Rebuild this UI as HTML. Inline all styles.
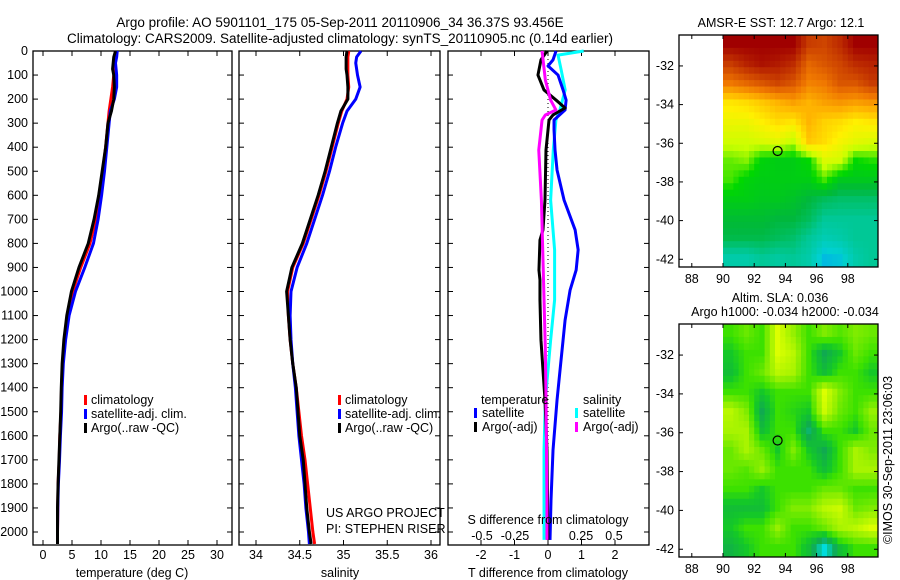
<!DOCTYPE html>
<html><head><meta charset="utf-8"><style>
body{margin:0;background:#fff;}
svg{display:block;font-family:"Liberation Sans",sans-serif;}
text{fill:#000;}
</style></head><body>
<svg id="chart" width="900" height="580" viewBox="0 0 900 580">
<text x="340" y="27" font-size="13.5" text-anchor="middle">Argo profile: AO 5901101_175 05-Sep-2011 20110906_34 36.37S 93.456E</text>
<text x="340" y="43" font-size="13.5" text-anchor="middle">Climatology: CARS2009. Satellite-adjusted climatology: synTS_20110905.nc (0.14d earlier)</text>
<g id="g"></g>
</svg>
<script>
// ---- data ----
const depthTicks=[0,100,200,300,400,500,600,700,800,900,1000,1100,1200,1300,1400,1500,1600,1700,1800,1900,2000];
const tempTicks=[0,5,10,15,20,25,30];
const salTicks=[34,34.5,35,35.5,36];
const salTickLabels=["34","34.5","35","35.5","36"];
const tdiffTicks=[-2,-1,0,1,2];
const sdiffTicks=[-0.5,-0.25,0,0.25,0.5];
const sdiffTickLabels=["-0.5","-0.25","0","0.25","0.5"];
const profDepth=[0,25,50,75,100,150,200,250,300,400,500,600,700,800,900,1000,1100,1200,1300,1400,1500,1600,1700,1800,1900,2000,2050];
const tempClim=[12.5,12.4,12.4,12.3,12.2,12.0,11.7,11.4,11.2,10.8,10.3,9.8,9.1,8.1,6.5,5.1,4.2,3.7,3.4,3.2,3.1,2.9,2.8,2.6,2.55,2.5,2.5];
const tempSat=[12.8,12.7,12.5,12.6,12.7,12.7,12.3,11.6,11.4,11.0,10.6,10.1,9.5,8.7,7.2,5.6,4.5,3.9,3.5,3.3,3.2,3.0,2.85,2.65,2.55,2.5,2.5];
const tempArgo=[12.5,12.2,12.1,12.0,12.2,12.3,12.2,11.8,11.2,10.8,10.2,9.6,8.8,7.8,6.2,4.9,4.1,3.6,3.3,3.15,3.05,2.9,2.75,2.6,2.5,2.5,2.5];
const salClim=[35.06,35.05,35.05,35.05,35.05,35.06,35.04,34.98,34.94,34.87,34.8,34.72,34.63,34.54,34.42,34.36,34.37,34.39,34.42,34.46,34.49,34.52,34.56,34.59,34.62,34.65,34.67];
const salSat=[35.2,35.15,35.14,35.15,35.16,35.19,35.14,35.04,34.99,34.91,34.84,34.76,34.67,34.58,34.47,34.4,34.39,34.4,34.42,34.45,34.47,34.49,34.52,34.55,34.57,34.6,34.61];
const salArgo=[35.04,35.03,35.03,35.03,35.04,35.05,35.05,34.97,34.93,34.86,34.79,34.71,34.62,34.53,34.41,34.35,34.37,34.39,34.42,34.46,34.48,34.5,34.54,34.56,34.58,34.61,34.63];
const tSatDepth=[0,37,62,100,162,204,245,287,328,412,495,620,744,827,911,994,1119,1202,1326,1451,1659,1867,2033];
const tSatDiff=[0.24,0.15,0,0.30,0.45,0.54,0.51,0.18,0.18,0.21,0.27,0.48,0.81,0.9,0.84,0.66,0.51,0.45,0.36,0.27,0.15,0.09,0.06];
const tArgoDepth=[0,37,100,162,204,237,266,287,412,620,744,786,911,952,1035,1202,1451,1659,2033];
const tArgoDiff=[-0.03,-0.21,-0.3,-0.12,0.24,0.51,0.15,0.03,-0.06,-0.09,-0.15,-0.24,-0.27,-0.24,-0.24,-0.21,-0.09,-0.03,0];
const sSatDepth=[0,17,79,162,204,245,287,412,620,827,1035,1202,1451,1659,2033];
const sSatDiff=[0.27,0.076,0.1,0.13,0.11,0.09,0.06,0.04,0.02,0.05,0.05,0.02,-0.02,-0.03,-0.03];
const sArgoDepth=[0,121,204,245,266,287,412,620,827,1035,1244,1451,1867,2033];
const sArgoDiff=[-0.045,-0.02,0.02,0.06,-0.02,-0.045,-0.07,-0.05,-0.04,-0.03,-0.02,-0.015,-0.008,-0.008];
const mapLonTicks=[88,90,92,94,96,98];
const mapLatTicks=[-32,-34,-36,-38,-40,-42];
const gridLon=[90,91,92,93,94,95,96,97,98,99];
const gridLat=[-30.4,-31.4,-32.4,-33.4,-34.4,-35.4,-36.4,-37.4,-38.4,-39.4,-40.4,-41.4];
const sst=[
[16,16,16,16,16,15.3,15.2,15.5,16,16],
[15.3,15.6,15.8,15.7,15.5,14.8,15,15.2,15.5,15.6],
[14.6,14.8,15,15.2,15,14.5,14.6,15,15,15.3],
[13.5,13.6,13.8,14,14.2,14,14.2,14.3,14.2,14.3],
[13.2,13.2,13.4,13.6,13.5,14,13.7,13.6,13.4,13.5],
[12.9,12.9,13,13.1,12.8,13.8,13.6,13.3,13.1,13.0],
[12.5,12.6,12.1,12.0,12.0,12.2,13.0,12.9,12.2,12.3],
[12.4,12.1,12.0,12.0,12.0,12.0,12.4,11.9,11.9,11.9],
[12.0,12.0,11.9,11.9,11.8,11.6,11.4,11.3,11.3,11.3],
[11.7,11.7,11.7,11.6,11.6,11.4,11.0,11.0,11.0,11.0],
[11.5,11.5,11.5,11.4,11.3,11.0,10.7,10.8,11.0,11.0],
[10.8,10.8,11.0,10.9,11.0,10.8,10.2,10.3,10.8,11.0]];
const sla=[
[0,0.2,0,0.8,0.4,0,0.3,0.1,0.3,0.2],
[-0.2,0,0,0.8,0.6,0,-0.5,-0.2,0.2,0],
[-0.3,0,0.2,0.6,0.5,0,-0.3,0,0,-0.2],
[0,0,-0.2,0,0,0,0.8,0.3,0,0],
[0.6,0.3,-0.5,0,-0.1,-0.2,0.7,0.2,0,0.4],
[0.5,0.5,-0.3,0,0,-0.6,0,0,-0.2,0.2],
[0.2,0.5,0.2,-0.2,0.3,-0.2,-0.5,0,0.5,0.3],
[0.2,0.1,0.4,0,0,0,-0.3,0,0.5,0.5],
[0,0,-0.2,0,0,0,0.2,0.2,0,0],
[-0.3,-0.3,-0.3,0,0.3,0.3,0.6,0.7,0.2,0.3],
[-0.2,0,0,0.4,0,0,0.2,0.5,0.6,0.8],
[-0.4,-0.2,0,0,0,-0.3,-1,-0.3,0,0]];
const argoPos=[93.5,-36.4];

// ---- helpers ----
const NS="http://www.w3.org/2000/svg";
const G=document.getElementById('g');
function mk(tag,at,txt){const e=document.createElementNS(NS,tag);for(const k in at)e.setAttribute(k,at[k]);if(txt!==undefined)e.textContent=txt;G.appendChild(e);return e;}
const Y0=51,Y1=545;
const yD=d=>Y0+d*0.2405;
const xT=t=>43+5.8*t;
const xS=s=>256+87.5*(s-34);
const xTd=t=>548+33.5*t;
const xSd=s=>548+132*s;

function frame(x0,x1,name){
  const r=mk('rect',{x:x0,y:Y0,width:x1-x0,height:Y1-Y0,fill:'none',stroke:'#000','stroke-width':1.3});
  
  
  depthTicks.forEach(d=>{const y=yD(d);
    mk('line',{x1:x0,x2:x0+5,y1:y,y2:y,stroke:'#000'});
    mk('line',{x1:x1-5,x2:x1,y1:y,y2:y,stroke:'#000'});});
}
function xticks(vals,labels,fx,x0,x1,ly,name){
  vals.forEach((v,i)=>{const x=fx(v);
    mk('line',{x1:x,x2:x,y1:Y0,y2:Y0+5,stroke:'#000'});
    mk('line',{x1:x,x2:x,y1:Y1-5,y2:Y1,stroke:'#000'});
    const t=mk('text',{x:x,y:ly,'font-size':12.5,'text-anchor':'middle'},labels[i]);
    
    });
}
function line(fx,xs,ds,color,name,w){
  const p=mk('polyline',{points:xs.map((v,i)=>fx(v)+','+yD(ds[i])).join(' '),fill:'none',stroke:color,'stroke-width':w||3,'stroke-linejoin':'round'});
  
  
}
function txt(x,y,s,name,extra){const t=mk('text',Object.assign({x:x,y:y,'font-size':12.5},extra||{}),s);
  
  return t;}
function marker(x,y,color,name){const r=mk('rect',{x:x,y:y-9,width:3,height:10,fill:color});
  
  }

// ---- panel 1: temperature ----
frame(33,232,'temperature-axes');
depthTicks.forEach(d=>txt(28,yD(d)+4,String(d),'depth-tick-label',{'text-anchor':'end'}));
xticks(tempTicks,tempTicks.map(String),xT,33,232,559,'temp-tick-label');
line(xT,tempClim,profDepth,'#ff0000','temp-climatology-line');
line(xT,tempSat,profDepth,'#0000ff','temp-satellite-line');
line(xT,tempArgo,profDepth,'#000000','temp-argo-line');
txt(132,577,'temperature (deg C)','temp-x-axis-title',{'text-anchor':'middle'});
marker(84,404,'#ff0000','legend-marker-climatology');txt(91,404,'climatology','legend-climatology');
marker(84,418,'#0000ff','legend-marker-satellite');txt(91,418,'satellite-adj. clim.','legend-satellite');
marker(84,432,'#000','legend-marker-argo');txt(91,432,'Argo(..raw -QC)','legend-argo');

// ---- panel 2: salinity ----
frame(239,440,'salinity-axes');
xticks(salTicks,salTickLabels,xS,239,440,559,'sal-tick-label');
line(xS,salClim,profDepth,'#ff0000','sal-climatology-line');
line(xS,salSat,profDepth,'#0000ff','sal-satellite-line');
line(xS,salArgo,profDepth,'#000000','sal-argo-line');
txt(340,577,'salinity','sal-x-axis-title',{'text-anchor':'middle'});
marker(338,404,'#ff0000','legend-marker-climatology-2');txt(345,404,'climatology','legend-climatology-2');
marker(338,418,'#0000ff','legend-marker-satellite-2');txt(345,418,'satellite-adj. clim.','legend-satellite-2');
marker(338,432,'#000','legend-marker-argo-2');txt(345,432,'Argo(..raw -QC)','legend-argo-2');
txt(326,517,'US ARGO PROJECT','project-label');
txt(326,533,'PI: STEPHEN RISER','pi-label');

// ---- panel 3: differences ----
frame(448,649,'difference-axes');
tdiffTicks.forEach(v=>{const x=xTd(v);mk('line',{x1:x,x2:x,y1:Y0,y2:Y0+5,stroke:'#000'});mk('line',{x1:x,x2:x,y1:Y1-5,y2:Y1,stroke:'#000'});
  txt(x,559,String(v),'tdiff-tick-label',{'text-anchor':'middle'});});
sdiffTicks.forEach((v,i)=>txt(xSd(v),540,sdiffTickLabels[i],'sdiff-tick-label',{'text-anchor':'middle'}));
const z=mk('line',{x1:xTd(0),x2:xTd(0),y1:Y0,y2:Y1,stroke:'#000','stroke-dasharray':'1,3'});


line(xSd,sSatDiff,sSatDepth,'#00ffff','sdiff-satellite-line');
line(xTd,tSatDiff,tSatDepth,'#0000ff','tdiff-satellite-line');
line(xTd,tArgoDiff,tArgoDepth,'#000000','tdiff-argo-line');
line(xSd,sArgoDiff,sArgoDepth,'#ff00ff','sdiff-argo-line');
txt(548,577,'T difference from climatology','tdiff-axis-title',{'text-anchor':'middle'});
txt(548,524,'S difference from climatology','sdiff-axis-title',{'text-anchor':'middle'});
txt(481,404,'temperature','legend-temperature-header');
marker(474,417,'#0000ff','legend-marker-tsat');txt(482,417,'satellite','legend-tsat');
marker(474,431,'#000','legend-marker-targo');txt(482,431,'Argo(-adj)','legend-targo');
txt(583,404,'salinity','legend-salinity-header');
marker(575,417,'#00ffff','legend-marker-ssat');txt(583,417,'satellite','legend-ssat');
marker(575,431,'#ff00ff','legend-marker-sargo');txt(583,431,'Argo(-adj)','legend-sargo');

// ---- maps ----
function lerpColor(stops,v){
  if(v<=stops[0][0])return stops[0][1];
  for(let i=1;i<stops.length;i++){if(v<=stops[i][0]){const a=stops[i-1],b=stops[i],f=(v-a[0])/(b[0]-a[0]);
    return a[1].map((x,k)=>Math.round(x+(b[1][k]-x)*f));}}
  return stops[stops.length-1][1];}
const sstStops=[[9.8,[0,144,255]],[10.4,[0,208,208]],[11,[0,200,150]],[11.6,[0,184,60]],[12.2,[0,216,0]],[12.8,[200,255,0]],[13.4,[255,240,0]],[14,[255,180,0]],[14.6,[240,120,0]],[15.3,[200,60,0]],[16,[160,0,0]]];
const slaStops=[[-1,[0,220,220]],[-0.5,[16,170,80]],[-0.2,[20,200,40]],[0,[60,225,0]],[0.4,[150,240,0]],[0.8,[220,255,0]]];
function sample(vals,fi,fj){
  const R=vals.length,C=vals[0].length;
  fi=Math.max(0,Math.min(R-1,fi));fj=Math.max(0,Math.min(C-1,fj));
  const i0=Math.floor(fi),j0=Math.floor(fj),i1=Math.min(R-1,i0+1),j1=Math.min(C-1,j0+1),a=fi-i0,b=fj-j0;
  return vals[i0][j0]*(1-a)*(1-b)+vals[i1][j0]*a*(1-b)+vals[i0][j1]*(1-a)*b+vals[i1][j1]*a*b;}
function map(top,bot,vals,stops,name){
  const xL=lo=>723+15.6*(lo-90);
  const yL=la=>top+(-30.4-la)*(bot-top)/12;
  const X0=679,X1=878;
  const SUB=3;
  const R=vals.length,C=vals[0].length;
  for(let i=0;i<R*SUB;i++)for(let j=0;j<C*SUB;j++){
    const v=sample(vals,(i+0.5)/SUB-0.5,(j+0.5)/SUB-0.5);
    const c=lerpColor(stops,v);
    const x=xL(gridLon[0]+j/SUB),y=yL(gridLat[0]-i/SUB);
    const w=Math.min(15.6/SUB+0.4,X1-x);
    if(w<=0)continue;
    const cell=mk('rect',{x:x,y:y,width:w,height:(bot-top)/12/SUB+0.4,fill:'rgb('+c.join(',')+')'});
    
    }
  const f=mk('rect',{x:X0,y:top,width:X1-X0,height:bot-top,fill:'none',stroke:'#000','stroke-width':1.3});
  
  
  mapLonTicks.forEach(lo=>{const x=xL(lo);mk('line',{x1:x,x2:x,y1:top,y2:top+4,stroke:'#000'});mk('line',{x1:x,x2:x,y1:bot-4,y2:bot,stroke:'#000'});
    txt(x,bot+16,String(lo),'map-lon-tick-label',{'text-anchor':'middle'});});
  mapLatTicks.forEach(la=>{const y=yL(la);mk('line',{x1:X0,x2:X0+4,y1:y,y2:y,stroke:'#000'});mk('line',{x1:X1-4,x2:X1,y1:y,y2:y,stroke:'#000'});
    txt(674,y+4,String(la),'map-lat-tick-label',{'text-anchor':'end'});});
  const c=mk('circle',{cx:xL(argoPos[0]),cy:yL(argoPos[1]),r:4.5,fill:'none',stroke:'#000','stroke-width':1.2});
  
  
}
map(35,267,sst,sstStops,'sst-map');
map(324,557,sla,slaStops,'sla-map');
txt(781,27,'AMSR-E SST: 12.7 Argo: 12.1','sst-map-title',{'text-anchor':'middle'});
txt(780,302,'Altim. SLA: 0.036','sla-map-title',{'text-anchor':'middle'});
txt(785,316,'Argo h1000: -0.034 h2000: -0.034','sla-map-subtitle',{'text-anchor':'middle'});
txt(0,0,'©IMOS 30-Sep-2011 23:06:03','timestamp',{'text-anchor':'middle',transform:'translate(892,460) rotate(-90)'});
</script>
</body></html>
